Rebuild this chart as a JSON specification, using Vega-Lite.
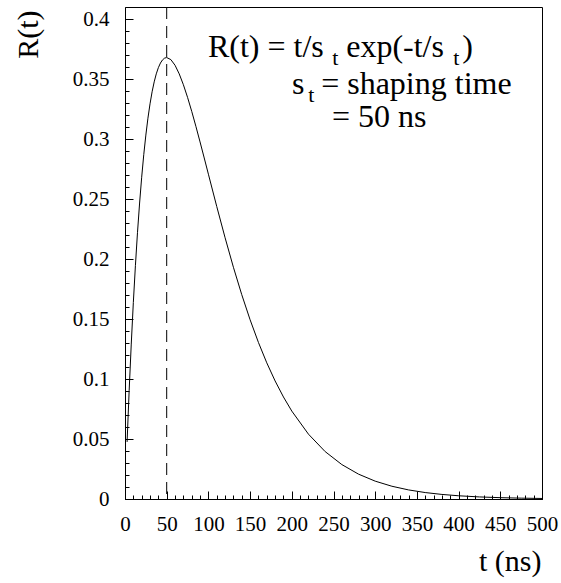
{
  "$schema": "https://vega.github.io/schema/vega-lite/v6.json",
  "autosize": {"type": "none"},
  "width": 417,
  "height": 492,
  "padding": {"left": 125, "top": 7, "right": 19, "bottom": 84},
  "background": "white",
  "config": {
    "view": {"stroke": "black", "strokeWidth": 1},
    "axis": {"labelColor": "black", "titleColor": "black", "domainColor": "black", "tickColor": "black", "grid": false, "titleFontWeight": "normal"}
  },
  "datasets": {
    "curve": [
      {"t": 2.5, "r": 0.047561}, {"t": 5, "r": 0.090484}, {"t": 7.5, "r": 0.129106}, {"t": 10, "r": 0.163746},
      {"t": 12.5, "r": 0.1947}, {"t": 15, "r": 0.222245}, {"t": 17.5, "r": 0.246641}, {"t": 20, "r": 0.268128},
      {"t": 22.5, "r": 0.286933}, {"t": 25, "r": 0.303265}, {"t": 27.5, "r": 0.317322}, {"t": 30, "r": 0.329287},
      {"t": 32.5, "r": 0.33933}, {"t": 35, "r": 0.34761}, {"t": 37.5, "r": 0.354275}, {"t": 40, "r": 0.359463},
      {"t": 42.5, "r": 0.363303}, {"t": 45, "r": 0.365913}, {"t": 47.5, "r": 0.367404}, {"t": 50, "r": 0.367879},
      {"t": 55, "r": 0.366158}, {"t": 60, "r": 0.361433}, {"t": 65, "r": 0.354292}, {"t": 70, "r": 0.345236},
      {"t": 75, "r": 0.334695}, {"t": 80, "r": 0.323035}, {"t": 85, "r": 0.310563}, {"t": 90, "r": 0.297538},
      {"t": 95, "r": 0.284181}, {"t": 100, "r": 0.270671}, {"t": 110, "r": 0.243767}, {"t": 120, "r": 0.217723},
      {"t": 130, "r": 0.193111}, {"t": 140, "r": 0.170268}, {"t": 150, "r": 0.149361}, {"t": 160, "r": 0.130438},
      {"t": 170, "r": 0.113468}, {"t": 180, "r": 0.098366}, {"t": 190, "r": 0.08501}, {"t": 200, "r": 0.073263},
      {"t": 220, "r": 0.054019}, {"t": 240, "r": 0.039503}, {"t": 260, "r": 0.028686}, {"t": 280, "r": 0.020708},
      {"t": 300, "r": 0.014873}, {"t": 320, "r": 0.010634}, {"t": 340, "r": 0.007574}, {"t": 360, "r": 0.005375},
      {"t": 380, "r": 0.003803}, {"t": 400, "r": 0.002684}, {"t": 425, "r": 0.001729}, {"t": 450, "r": 0.001111},
      {"t": 475, "r": 0.000711}, {"t": 500, "r": 0.000454}
    ],
    "peak": [{"t": 50}],
    "mainText": [
      {"t": 99.5, "r": 0.3683, "label": "R(t) = t/s"},
      {"t": 265.2, "r": 0.3683, "label": "exp(-t/s"},
      {"t": 404.4, "r": 0.3683, "label": ")"},
      {"t": 200.2, "r": 0.3375, "label": "s"},
      {"t": 235.2, "r": 0.3375, "label": "= shaping time"},
      {"t": 248.2, "r": 0.31, "label": "= 50 ns"}
    ],
    "subText": [
      {"t": 248.4, "r": 0.3617, "label": "t"},
      {"t": 393.6, "r": 0.3617, "label": "t"},
      {"t": 219.6, "r": 0.3308, "label": "t"}
    ]
  },
  "layer": [
    {
      "data": {"name": "curve"},
      "mark": {"type": "line", "color": "black", "strokeWidth": 1, "clip": true},
      "encoding": {
        "x": {"field": "t", "type": "quantitative", "scale": {"domain": [0, 500], "nice": false, "zero": false},
          "axis": {"orient": "bottom", "values": [0, 50, 100, 150, 200, 250, 300, 350, 400, 450, 500], "ticks": false, "tickSize": 0, "labelPadding": 14, "labelFont": "Times New Roman", "labelFontSize": 21, "labelFlush": false, "labelOverlap": false,
            "title": "t (ns)", "titleFont": "Times New Roman", "titleFontSize": 30, "titleAnchor": "end", "titleAlign": "right", "titleBaseline": "alphabetic", "titleX": 416, "titleY": 71}},
        "y": {"field": "r", "type": "quantitative", "scale": {"domain": [0, 0.41], "nice": false, "zero": false},
          "axis": {"orient": "left", "values": [0, 0.05, 0.1, 0.15, 0.2, 0.25, 0.3, 0.35, 0.4], "format": ".2~f", "ticks": false, "tickSize": 0, "labelPadding": 16, "labelFont": "Times New Roman", "labelFontSize": 21, "labelFlush": false, "labelOverlap": false,
            "title": "R(t)", "titleFont": "Times New Roman", "titleFontSize": 30, "titleAngle": -90, "titleAlign": "right", "titleBaseline": "alphabetic", "titleX": -88, "titleY": 3}}
      }
    },
    {
      "data": {"name": "curve"},
      "mark": {"type": "point", "opacity": 0},
      "encoding": {
        "x": {"field": "t", "type": "quantitative", "axis": {"orient": "bottom", "values": [0, 50, 100, 150, 200, 250, 300, 350, 400, 450, 500], "tickSize": -8, "labels": false, "domain": false, "title": null}},
        "y": {"field": "r", "type": "quantitative", "axis": {"orient": "left", "values": [0, 0.05, 0.1, 0.15, 0.2, 0.25, 0.3, 0.35, 0.4], "tickSize": -8, "labels": false, "domain": false, "title": null}}
      }
    },
    {
      "data": {"name": "curve"},
      "mark": {"type": "point", "opacity": 0},
      "encoding": {
        "x": {"field": "t", "type": "quantitative", "axis": {"orient": "bottom", "values": [0, 10, 20, 30, 40, 50, 60, 70, 80, 90, 100, 110, 120, 130, 140, 150, 160, 170, 180, 190, 200, 210, 220, 230, 240, 250, 260, 270, 280, 290, 300, 310, 320, 330, 340, 350, 360, 370, 380, 390, 400, 410, 420, 430, 440, 450, 460, 470, 480, 490, 500], "tickSize": -4, "labels": false, "domain": false, "title": null}},
        "y": {"field": "r", "type": "quantitative", "axis": {"orient": "left", "values": [0, 0.01, 0.02, 0.03, 0.04, 0.05, 0.06, 0.07, 0.08, 0.09, 0.1, 0.11, 0.12, 0.13, 0.14, 0.15, 0.16, 0.17, 0.18, 0.19, 0.2, 0.21, 0.22, 0.23, 0.24, 0.25, 0.26, 0.27, 0.28, 0.29, 0.3, 0.31, 0.32, 0.33, 0.34, 0.35, 0.36, 0.37, 0.38, 0.39, 0.4], "tickSize": -4, "labels": false, "domain": false, "title": null}}
      }
    },
    {
      "data": {"name": "peak"},
      "mark": {"type": "rule", "color": "black", "strokeWidth": 1, "strokeDash": [12, 7]},
      "encoding": {
        "x": {"field": "t", "type": "quantitative", "axis": null}
      }
    },
    {
      "data": {"name": "mainText"},
      "mark": {"type": "text", "align": "left", "baseline": "alphabetic", "fontSize": 32, "font": "Times New Roman", "color": "black"},
      "encoding": {
        "x": {"field": "t", "type": "quantitative", "axis": null},
        "y": {"field": "r", "type": "quantitative", "axis": null},
        "text": {"field": "label"}
      }
    },
    {
      "data": {"name": "subText"},
      "mark": {"type": "text", "align": "left", "baseline": "alphabetic", "fontSize": 22, "font": "Times New Roman", "color": "black"},
      "encoding": {
        "x": {"field": "t", "type": "quantitative", "axis": null},
        "y": {"field": "r", "type": "quantitative", "axis": null},
        "text": {"field": "label"}
      }
    }
  ],
  "resolve": {"axis": {"x": "independent", "y": "independent"}}
}
